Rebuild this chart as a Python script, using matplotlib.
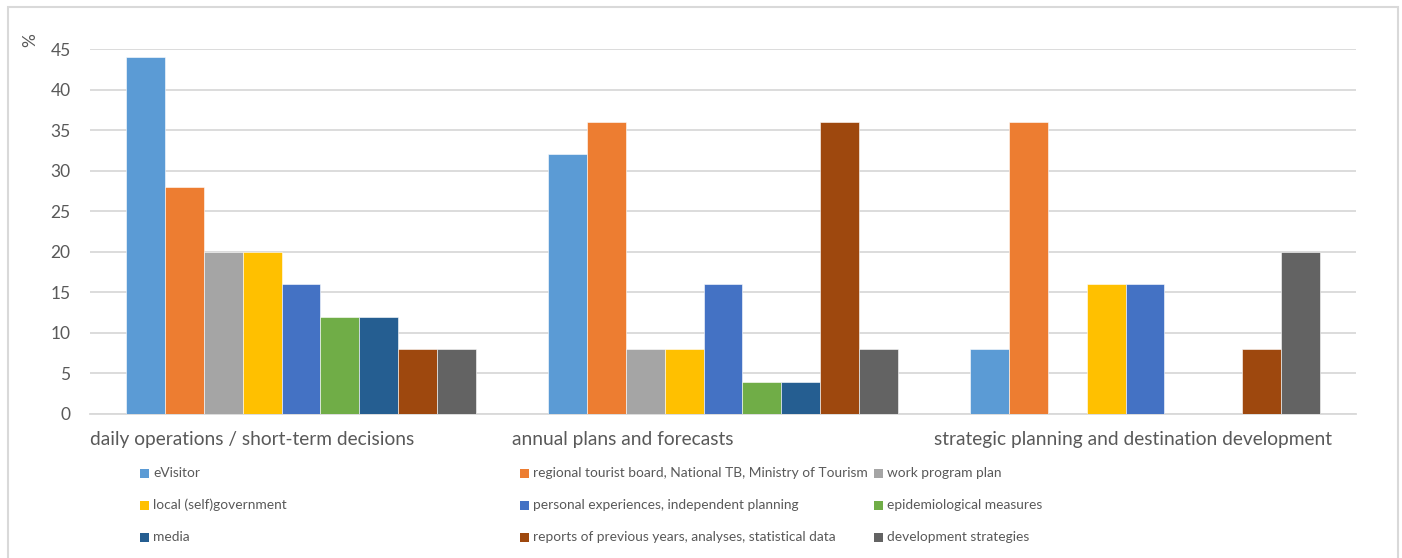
import matplotlib.pyplot as plt
import matplotlib.patches as mpatches
import numpy as np

plt.rcParams['font.family'] = ['Lato', 'DejaVu Sans']

categories = ["daily operations / short-term decisions",
              "annual plans and forecasts",
              "strategic planning and destination development"]
series = ["eVisitor",
          "regional tourist board, National TB, Ministry of Tourism",
          "work program plan",
          "local (self)government",
          "personal experiences, independent planning",
          "epidemiological measures",
          "media",
          "reports of previous years, analyses, statistical data",
          "development strategies"]
values = [
    [44, 32, 8],
    [28, 36, 36],
    [20, 8, 0],
    [20, 8, 16],
    [16, 16, 16],
    [12, 4, 0],
    [12, 4, 0],
    [8, 36, 8],
    [8, 8, 20],
]
colors = ["#5B9BD5", "#ED7D31", "#A5A5A5", "#FFC000", "#4472C4",
          "#70AD47", "#255E91", "#9E480E", "#636363"]

W, H = 1402, 558
fig = plt.figure(figsize=(W / 100, H / 100), dpi=100)

def fx(px):
    return px / W

def fy(py):
    return 1 - py / H

ax = fig.add_axes([fx(90), fy(414), fx(1356) - fx(90), fy(49) - fy(414)])

x = np.arange(len(categories))
n = len(series)
w = 0.83 / n
for j in range(n):
    ax.bar(x + (j - (n - 1) / 2) * w, values[j], width=w, color=colors[j],
           edgecolor="white", linewidth=0.4, zorder=3)

ax.set_xlim(-0.5, 2.5)
ax.set_ylim(0, 45)
ax.set_yticks(np.arange(0, 46, 5))
ax.yaxis.grid(True, color="#d9d9d9", linewidth=1.3, zorder=0)
ax.set_axisbelow(True)
for s in ["left", "right", "top"]:
    ax.spines[s].set_visible(False)
ax.spines["bottom"].set_color("#d9d9d9")
ax.spines["bottom"].set_linewidth(1.3)
ax.tick_params(axis="y", length=0, pad=14, labelsize=12.5, labelcolor="#595959")
ax.set_xticks(x - 0.5)
ax.set_xticklabels(categories, ha="left")
ax.tick_params(axis="x", length=0, pad=12, labelsize=13.8, labelcolor="#595959")

fig.text(fx(30), fy(40), "%", rotation=90, ha="center", va="center",
         fontsize=12.5, color="#595959")

# legend, 3 columns, 3 rows
col_x = [140, 520, 874]
row_y = [473, 505, 537]
for k, (label, c) in enumerate(zip(series, colors)):
    r, cidx = divmod(k, 3)
    px, py = col_x[cidx], row_y[r]
    fig.patches.append(mpatches.Rectangle((fx(px), fy(py + 4.5)), fx(9), 9 / H,
                                          transform=fig.transFigure,
                                          facecolor=c, edgecolor="none"))
    fig.text(fx(px + 13), fy(py), label, ha="left", va="center",
             fontsize=9.9, color="#595959")

# outer frame
fig.patches.append(mpatches.Rectangle((fx(8), -0.05), fx(1398 - 8), fy(7) + 0.05,
                                      transform=fig.transFigure, fill=False,
                                      edgecolor="#d9d9d9", linewidth=1.5))

fig.savefig("out.png", dpi=100)
